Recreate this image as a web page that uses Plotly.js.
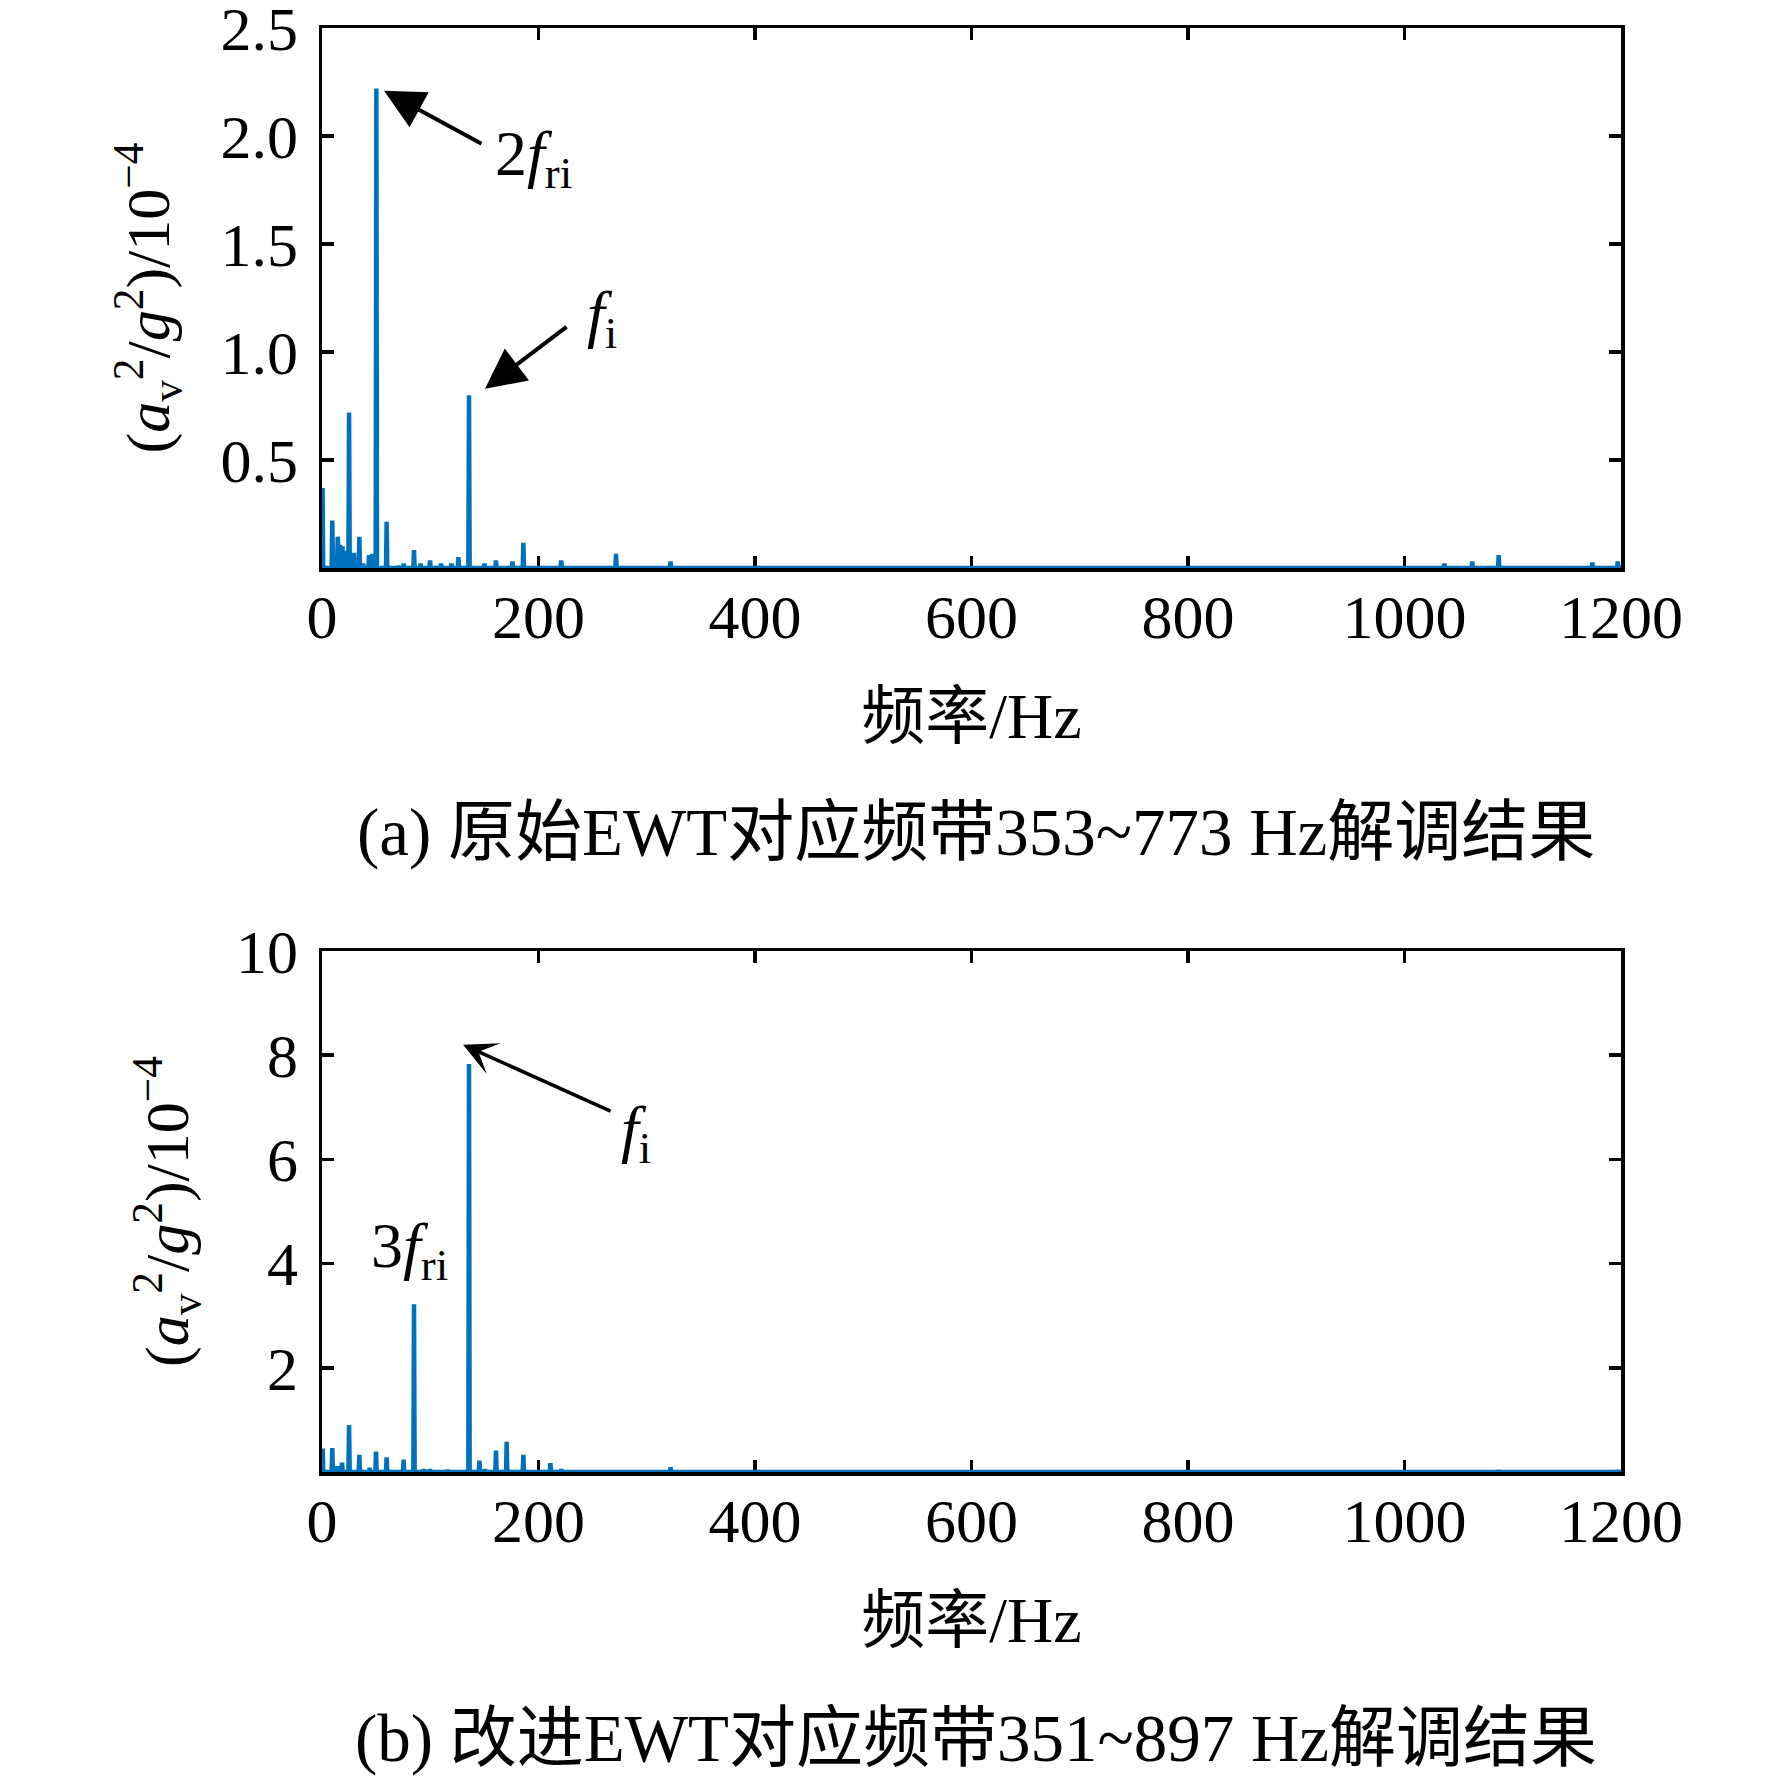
<!DOCTYPE html>
<html>
<head>
<meta charset="utf-8">
<script src="https://cdn.plot.ly/plotly-3.0.1.min.js"></script>
<style>
  body { margin: 0; background: #fff; }
  #plot { width: 1772px; height: 1777px; }
</style>
</head>
<body>
<div id="plot"></div>
<script>
// 频谱峰值 (a) 原始EWT
const freqA = [0.5, 9.5, 12, 14.5, 16.6, 18.9, 20.8, 25, 29.6, 34.5, 38, 43.4, 46.5, 50.2, 59.7, 71, 75.5, 85, 91, 99.8, 110, 119.6, 126, 135.8, 150, 160.7, 176, 186, 221, 271.6, 322, 1036.8, 1062.6, 1087, 1173.5, 1197];
const ampA = [0.37, 0.22, 0.04, 0.145, 0.107, 0.10, 0.08, 0.72, 0.07, 0.145, 0.02, 0.06, 0.065, 2.22, 0.214, 0.01, 0.02, 0.083, 0.02, 0.035, 0.02, 0.02, 0.05, 0.80, 0.02, 0.035, 0.03, 0.117, 0.035, 0.065, 0.03, 0.02, 0.03, 0.06, 0.025, 0.03];

// 频谱峰值 (b) 改进EWT
const freqB = [0.6, 9.5, 14, 18.5, 25, 34.5, 44, 49.9, 59.7, 75.4, 85, 94, 99.8, 116, 135.8, 145.4, 150.5, 160.7, 170.6, 186, 211, 221, 322, 1087, 1197];
const ampB = [0.45, 0.46, 0.11, 0.18, 0.9, 0.33, 0.08, 0.39, 0.28, 0.24, 3.22, 0.05, 0.05, 0.04, 7.83, 0.22, 0.05, 0.41, 0.58, 0.33, 0.17, 0.05, 0.09, 0.03, 0.03];

const xTicks = [0, 200, 400, 600, 800, 1000, 1200];
const yTicksA = [0.5, 1.0, 1.5, 2.0, 2.5];
const yTickTextA = ["0.5", "1.0", "1.5", "2.0", "2.5"];
const yTicksB = [2, 4, 6, 8, 10];

const captionA = "(a) 原始EWT对应频带353~773 Hz解调结果";
const captionB = "(b) 改进EWT对应频带351~897 Hz解调结果";
const xTitle = "频率/Hz";
const yTitle = "(<i>a</i><sub>v</sub><sup>2</sup>/<i>g</i><sup>2</sup>)/10<sup>−4</sup>";

// 峰值 → 折线 (尖峰)
function spikes(freq, amp) {
  const x = [0], y = [0];
  freq.forEach((f, i) => {
    x.push(f - 0.6, f, f + 0.6);
    y.push(0, amp[i], 0);
  });
  x.push(1200);
  y.push(0);
  return { x, y };
}

const FONT = "'Liberation Serif', 'Times New Roman', 'Noto Sans CJK SC', serif";
const BLUE = "#0072BD";

const sa = spikes(freqA, ampA);
const sb = spikes(freqB, ampB);

const data = [
  { x: sa.x, y: sa.y, type: "scatter", mode: "lines", xaxis: "x", yaxis: "y",
    line: { color: BLUE, width: 4.5 }, cliponaxis: false, hoverinfo: "skip" },
  { x: sb.x, y: sb.y, type: "scatter", mode: "lines", xaxis: "x2", yaxis: "y2",
    line: { color: BLUE, width: 4.5 }, cliponaxis: false, hoverinfo: "skip" }
];

const xDom = [322 / 1772, 1621 / 1772];
function xAxis(anchor) {
  return {
    anchor: anchor, domain: xDom, range: [0, 1200], tickvals: xTicks,
    ticks: "inside", ticklen: 12, tickwidth: 3.5, tickcolor: "#000",
    showline: true, linecolor: "#000", linewidth: 3.5, mirror: "ticks",
    showgrid: false, zeroline: false, layer: "below traces",
    tickfont: { family: FONT, size: 62, color: "#000" },
    ticklabelstandoff: -8, ticklabeloverflow: "allow",
    title: { text: xTitle, font: { family: FONT, size: 64, color: "#000" }, standoff: 44 },
    automargin: false
  };
}
function yAxis(anchor, dom, range, vals, text, standoff) {
  return {
    anchor: anchor, domain: dom, range: range, tickvals: vals, ticktext: text,
    ticks: "inside", ticklen: 12, tickwidth: 3.5, tickcolor: "#000",
    showline: true, linecolor: "#000", linewidth: 3.5, mirror: "ticks",
    showgrid: false, zeroline: false, layer: "below traces",
    tickfont: { family: FONT, size: 62, color: "#000" },
    ticklabelstandoff: 8, ticklabeloverflow: "allow",
    title: { text: yTitle, font: { family: FONT, size: 62, color: "#000" }, standoff: standoff },
    automargin: false
  };
}

const txtFont = { family: FONT, size: 64, color: "#000" };

const layout = {
  width: 1772, height: 1777,
  margin: { l: 0, r: 0, t: 0, b: 0 },
  paper_bgcolor: "#fff", plot_bgcolor: "#fff",
  showlegend: false,
  xaxis: xAxis("y"),
  yaxis: yAxis("x", [1 - 568 / 1777, 1 - 28 / 1777], [0, 2.5001], yTicksA, yTickTextA, 32),
  xaxis2: xAxis("y2"),
  yaxis2: yAxis("x2", [1 - 1472 / 1777, 1 - 951 / 1777], [0, 10.0004], yTicksB, yTicksB.map(String), 28),
  annotations: [
    // arrows
    { xref: "x", yref: "y", x: 57.3, y: 2.21, ax: 99, ay: 54, text: "", showarrow: true,
      arrowhead: 2, arrowsize: 2, arrowwidth: 4, arrowcolor: "#000" },
    { xref: "x", yref: "y", x: 150.6, y: 0.83, ax: 83, ay: -63, text: "", showarrow: true,
      arrowhead: 2, arrowsize: 2, arrowwidth: 4, arrowcolor: "#000" },
    { xref: "x2", yref: "y2", x: 130.3, y: 8.2, ax: 149, ay: 67, text: "", showarrow: true,
      arrowhead: 3, arrowsize: 1.6, arrowwidth: 3.5, arrowcolor: "#000" },
    // labels
    { xref: "x", yref: "y", x: 195.8, y: 1.90, text: "2<i>f</i><sub>ri</sub>", showarrow: false, font: txtFont },
    { xref: "x", yref: "y", x: 258.7, y: 1.157, text: "<i>f</i><sub>i</sub>", showarrow: false, font: txtFont },
    { xref: "x2", yref: "y2", x: 290, y: 6.51, text: "<i>f</i><sub>i</sub>", showarrow: false, font: txtFont },
    { xref: "x2", yref: "y2", x: 80.4, y: 4.26, text: "3<i>f</i><sub>ri</sub>", showarrow: false, font: txtFont },
    // captions
    { xref: "paper", yref: "paper", x: 976 / 1772, y: 1 - 832 / 1777, yanchor: "middle",
      text: captionA, showarrow: false, font: { family: FONT, size: 67, color: "#000" } },
    { xref: "paper", yref: "paper", x: 976 / 1772, y: 1 - 1738 / 1777, yanchor: "middle",
      text: captionB, showarrow: false, font: { family: FONT, size: 67, color: "#000" } }
  ]
};

Plotly.newPlot("plot", data, layout, { staticPlot: true });
</script>
</body>
</html>
